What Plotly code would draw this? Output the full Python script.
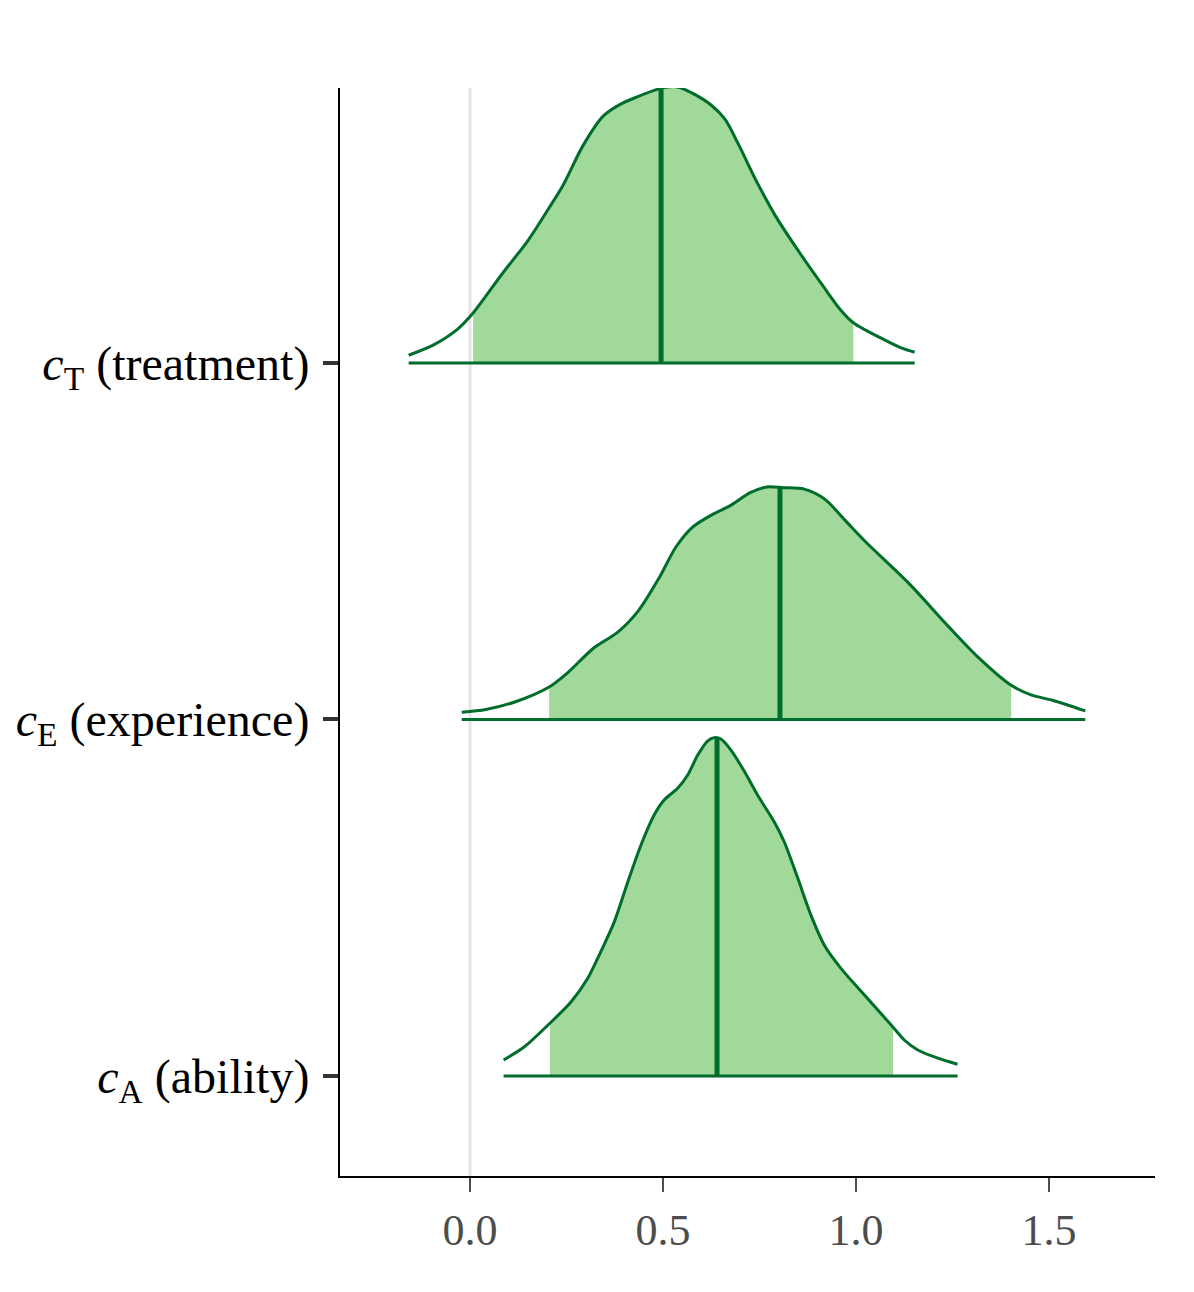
import numpy as np
import plotly.graph_objects as go

# ---- data ----
param_labels = ["<i>c</i><sub>A</sub> (ability)",
                "<i>c</i><sub>E</sub> (experience)",
                "<i>c</i><sub>T</sub> (treatment)"]
param_pos = [1, 2, 3]

# treatment density (x, scaled height)
treat_x = [-0.159, -0.093, -0.032, 0.008, 0.082, 0.152, 0.205, 0.240, 0.292, 0.345,
           0.389, 0.433, 0.485, 0.512, 0.538, 0.582, 0.626, 0.661, 0.696, 0.740,
           0.792, 0.854, 0.915, 0.959, 0.994, 1.064, 1.117, 1.152]
treat_h = [0.0215, 0.0514, 0.095, 0.140, 0.248, 0.346, 0.435, 0.496, 0.608, 0.692,
           0.725, 0.746, 0.767, 0.774, 0.774, 0.753, 0.722, 0.683, 0.612, 0.514,
           0.411, 0.309, 0.215, 0.150, 0.112, 0.070, 0.042, 0.030]
treat_interval = [0.008, 0.993]
treat_median = 0.495

# experience density
exper_x = [-0.0215, 0.041, 0.116, 0.205, 0.255, 0.319, 0.383, 0.437, 0.491, 0.533,
           0.576, 0.630, 0.673, 0.726, 0.769, 0.812, 0.866, 0.919, 0.973, 1.026,
           1.134, 1.241, 1.316, 1.402, 1.455, 1.509, 1.594]
exper_h = [0.020, 0.028, 0.049, 0.091, 0.133, 0.199, 0.245, 0.306, 0.399, 0.483,
           0.539, 0.576, 0.599, 0.636, 0.652, 0.650, 0.646, 0.618, 0.557, 0.497,
           0.385, 0.259, 0.175, 0.096, 0.068, 0.054, 0.024]
exper_interval = [0.205, 1.402]
exper_median = 0.803

# ability density
abil_x = [0.087, 0.141, 0.207, 0.262, 0.305, 0.339, 0.374, 0.409, 0.443, 0.477,
          0.503, 0.538, 0.564, 0.590, 0.616, 0.633, 0.650, 0.676, 0.711, 0.745,
          0.788, 0.814, 0.849, 0.883, 0.918, 0.961, 1.022, 1.091, 1.125, 1.160,
          1.212, 1.263]
abil_h = [0.045, 0.082, 0.148, 0.208, 0.274, 0.349, 0.433, 0.545, 0.648, 0.732,
          0.774, 0.807, 0.844, 0.900, 0.940, 0.949, 0.945, 0.914, 0.854, 0.788,
          0.713, 0.657, 0.555, 0.452, 0.367, 0.302, 0.227, 0.143, 0.101, 0.073,
          0.050, 0.033]
abil_interval = [0.207, 1.096]
abil_median = 0.640

x_tickvals = [0.0, 0.5, 1.0, 1.5]
x_ticktext = ["0.0", "0.5", "1.0", "1.5"]

# ---- styling ----
FILL = "#a1d99b"
LINE = "#006d2c"
FONT = "Liberation Serif"

series = [
    (abil_x, abil_h, abil_interval, abil_median, param_pos[0]),
    (exper_x, exper_h, exper_interval, exper_median, param_pos[1]),
    (treat_x, treat_h, treat_interval, treat_median, param_pos[2]),
]

fig = go.Figure()

fig.add_shape(type="line", xref="x", yref="paper", x0=0, x1=0, y0=0, y1=1,
              line=dict(color="#e5e5e5", width=3), layer="below")

for xs, hs, (lo, hi), med, base in series:
    xs = np.array(xs, dtype=float)
    hs = np.array(hs, dtype=float)
    # shaded interval: baseline then curve filled to it
    fig.add_trace(go.Scatter(x=[lo, hi], y=[base, base], mode="lines",
                             line=dict(width=0, color=FILL), showlegend=False,
                             hoverinfo="skip"))
    inside = (xs > lo) & (xs < hi)
    sx = np.concatenate([[lo], xs[inside], [hi]])
    sy = np.concatenate([[np.interp(lo, xs, hs)], hs[inside], [np.interp(hi, xs, hs)]]) + base
    fig.add_trace(go.Scatter(x=sx, y=sy, mode="lines", fill="tonexty",
                             fillcolor=FILL, line=dict(width=0, color=FILL, shape="spline",
                                                       smoothing=0.8),
                             showlegend=False, hoverinfo="skip"))
    # median line
    fig.add_trace(go.Scatter(x=[med, med], y=[base, base + np.interp(med, xs, hs)],
                             mode="lines", line=dict(color=LINE, width=5),
                             showlegend=False, hoverinfo="skip"))
    # outline
    fig.add_trace(go.Scatter(x=xs, y=hs + base, mode="lines",
                             line=dict(color=LINE, width=3, shape="spline", smoothing=0.8),
                             showlegend=False, hoverinfo="skip"))
    # baseline
    fig.add_trace(go.Scatter(x=[xs[0], xs[-1]], y=[base, base], mode="lines",
                             line=dict(color=LINE, width=3),
                             showlegend=False, hoverinfo="skip"))

fig.update_layout(
    width=1194, height=1292,
    margin=dict(l=332, r=47, t=80, b=124, autoexpand=False),
    plot_bgcolor="white", paper_bgcolor="white",
    font=dict(family=FONT, size=48, color="black"),
    showlegend=False,
)
fig.update_xaxes(range=[-0.3368, 1.7746], tickvals=x_tickvals, ticktext=x_ticktext,
                 automargin=False,
                 showgrid=False, zeroline=False, showline=True, linecolor="black",
                 linewidth=2, ticks="outside", ticklen=14, tickwidth=1.5,
                 tickcolor="#4d4d4d", tickfont=dict(family=FONT, size=44, color="#4d4d4d"))
fig.update_yaxes(range=[0.7195, 3.771], tickvals=param_pos, ticktext=param_labels,
                 automargin=False,
                 showgrid=False, zeroline=False, showline=True, linecolor="black",
                 linewidth=2, ticks="outside", ticklen=15, tickwidth=4,
                 ticklabelstandoff=4,
                 tickcolor="#333333", tickfont=dict(family=FONT, size=48, color="black"))

fig.write_html("out.html")
